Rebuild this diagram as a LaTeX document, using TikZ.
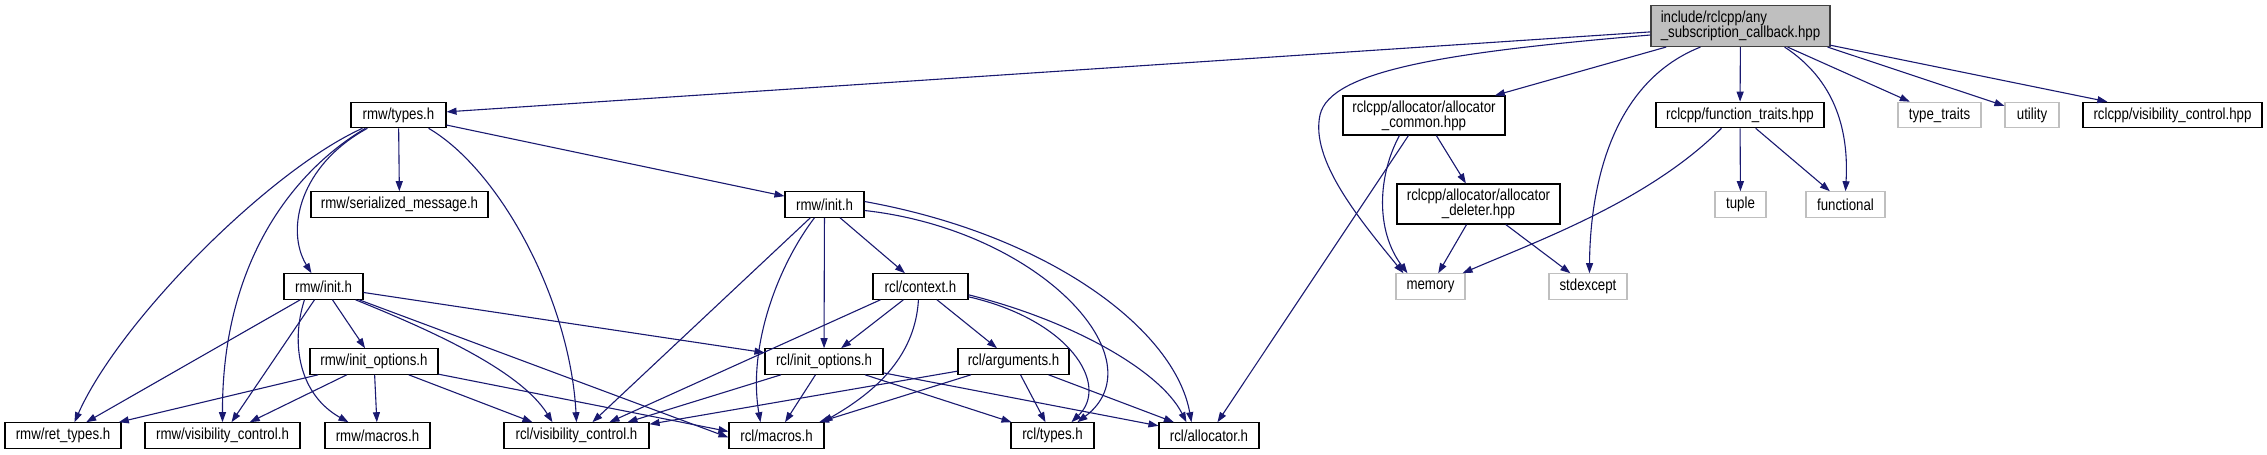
\documentclass[tikz,border=0pt]{standalone}
\usepackage{fontspec}
\setmainfont{Liberation Sans}[FakeStretch=0.83]
\usetikzlibrary{arrows.meta}
\definecolor{edgeblue}{HTML}{191970}
\definecolor{greyfill}{HTML}{BFBFBF}
\definecolor{greyline}{HTML}{BFBFBF}
\definecolor{mainline}{HTML}{404040}
\begin{document}
\begin{tikzpicture}[x=1pt,y=-1pt,
  filebox/.style={draw=black, line width=1.1pt, fill=white, inner sep=0pt, minimum height=25.5pt, font=\fontsize{16}{15}\selectfont, align=center},
  sysbox/.style={filebox, draw=greyline},
  mainbox/.style={filebox, fill=greyfill, draw=mainline, align=left},
  dep/.style={draw=edgeblue, line width=1.1pt, -{Triangle[length=10pt,width=7pt]}}
]
\useasboundingbox (0,0) rectangle (2267,455);

% nodes
\node[mainbox, minimum width=179pt, minimum height=41pt] (main) at (1740.5,26) {include/rclcpp/any\\\_subscription\_callback.hpp};
\node[filebox, minimum width=95pt] (types) at (398.5,115) {rmw/types.h};
\node[filebox, minimum width=177pt] (serial) at (399.5,204.5) {rmw/serialized\_message.h};
\node[filebox, minimum width=79pt] (initR) at (824.5,204.5) {rmw/init.h};
\node[filebox, minimum width=79pt] (initL) at (323.5,286.5) {rmw/init.h};
\node[filebox, minimum width=128pt] (rmwio) at (374,361.5) {rmw/init\_options.h};
\node[filebox, minimum width=116pt] (ret) at (63,435.5) {rmw/ret\_types.h};
\node[filebox, minimum width=155pt] (rmwvis) at (222.5,435.5) {rmw/visibility\_control.h};
\node[filebox, minimum width=105pt] (rmwmac) at (377.5,435.5) {rmw/macros.h};
\node[filebox, minimum width=145pt] (rclvis) at (576.5,435.5) {rcl/visibility\_control.h};
\node[filebox, minimum width=95pt] (rclmac) at (776.5,435.5) {rcl/macros.h};
\node[filebox, minimum width=83pt] (rcltypes) at (1052.5,435.5) {rcl/types.h};
\node[filebox, minimum width=100pt] (rclalloc) at (1209,435.5) {rcl/allocator.h};
\node[filebox, minimum width=95pt] (context) at (920.5,286.5) {rcl/context.h};
\node[filebox, minimum width=118pt] (rclio) at (824,361.5) {rcl/init\_options.h};
\node[filebox, minimum width=111pt] (args) at (1013.5,361.5) {rcl/arguments.h};
\node[filebox, minimum width=162pt, minimum height=39pt] (acommon) at (1424,115.5) {rclcpp/allocator/allocator\\\_common.hpp};
\node[filebox, minimum width=163pt, minimum height=40pt] (adeleter) at (1478.5,204) {rclcpp/allocator/allocator\\\_deleter.hpp};
\node[sysbox, minimum width=69pt] (memory) at (1430.5,286.5) {memory};
\node[sysbox, minimum width=78pt] (stdexcept) at (1588,286.5) {stdexcept};
\node[filebox, minimum width=168pt] (ftraits) at (1740,115) {rclcpp/function\_traits.hpp};
\node[sysbox, minimum width=83pt] (ttraits) at (1939.5,115) {type\_traits};
\node[sysbox, minimum width=54pt] (utility) at (2032,115) {utility};
\node[filebox, minimum width=179pt] (rcppvis) at (2172.5,115) {rclcpp/visibility\_control.hpp};
\node[sysbox, minimum width=51pt] (tuple) at (1740.5,204.5) {tuple};
\node[sysbox, minimum width=79pt] (functional) at (1845.5,204.5) {functional};

% main
\draw[dep] (main) -- (types);
\draw[dep] ([yshift=-9pt]main.west) .. controls (1450,52) and (1330,70) .. (1320,115) .. controls (1310,160) and (1360,220) .. ([xshift=8pt]memory.north west);
\draw[dep] (main) -- (acommon);
\draw[dep] ([xshift=50pt]main.south west) .. controls (1605,85) and (1590,200) .. ([xshift=41pt]stdexcept.north west);
\draw[dep] (main) -- (ftraits);
\draw[dep] ([xshift=-46pt]main.south east) .. controls (1835,80) and (1849,130) .. (functional.north);
\draw[dep] (main) -- (ttraits);
\draw[dep] ([xshift=-3pt]main.south east) -- (utility);
\draw[dep] ([xshift=-1pt,yshift=2pt]main.south east) -- (rcppvis);

% rmw/types.h
\draw[dep] (types) -- (serial);
\draw[dep] (types) -- (initR);
\draw[dep] ([xshift=12pt]types.south west) .. controls (270,170) and (120,320) .. ([xshift=70pt]ret.north west);
\draw[dep] ([xshift=15pt]types.south west) .. controls (295,170) and (222,260) .. (rmwvis.north);
\draw[dep] ([xshift=17pt]types.south west) .. controls (300,165) and (285,230) .. ([xshift=28pt]initL.north west);
\draw[dep] ([xshift=-18pt]types.south east) .. controls (500,170) and (570,300) .. (rclvis.north);

% rmw/init.h (left)
\draw[dep] (initL) -- (ret);
\draw[dep] (initL) -- (rmwvis);
\draw[dep] ([xshift=21pt]initL.south west) .. controls (290,345) and (300,395) .. ([xshift=24pt]rmwmac.north west);
\draw[dep] (initL) -- (rmwio);
\draw[dep] ([xshift=-8pt]initL.south east) .. controls (430,330) and (520,370) .. ([xshift=49pt]rclvis.north west);
\draw[dep] (initL) -- ([yshift=-2pt]rclmac.west);
\draw[dep] (initL) -- (rclio);

% rmw/init_options.h
\draw[dep] (rmwio) -- (ret);
\draw[dep] (rmwio) -- (rmwvis);
\draw[dep] (rmwio) -- (rmwmac);
\draw[dep] (rmwio) -- ([xshift=29pt]rclvis.north west);
\draw[dep] (rmwio) -- ([yshift=4pt]rclmac.west);

% rmw/init.h (right)
\draw[dep] (initR) -- ([xshift=89pt]rclvis.north west);
\draw[dep] ([xshift=30pt]initR.south west) .. controls (775,270) and (748,350) .. ([xshift=32pt]rclmac.north west);
\draw[dep] (initR) -- (rclio);
\draw[dep] (initR) -- (context);
\draw[dep] ([yshift=-6pt]initR.east) .. controls (1040,230) and (1160,360) .. ([xshift=67pt]rcltypes.north west);
\draw[dep] ([yshift=3pt]initR.east) .. controls (1050,235) and (1175,330) .. ([xshift=33pt]rclalloc.north west);

% rcl/context.h
\draw[dep] ([xshift=8pt]context.south west) -- ([xshift=106pt]rclvis.north west);
\draw[dep] (context) -- (rclio);
\draw[dep] ([xshift=46pt]context.south west) .. controls (915,360) and (870,395) .. ([xshift=-2pt]rclmac.north east);
\draw[dep] (context) -- (args);
\draw[dep] ([yshift=3pt]context.south east) .. controls (1070,320) and (1110,385) .. ([xshift=61pt]rcltypes.north west);
\draw[dep] ([yshift=5pt]context.south east) .. controls (1070,320) and (1160,370) .. ([xshift=28pt]rclalloc.north west);

% rcl/init_options.h
\draw[dep] (rclio) -- ([xshift=124pt]rclvis.north west);
\draw[dep] (rclio) -- (rclmac);
\draw[dep] (rclio) -- (rcltypes);
\draw[dep] (rclio) -- (rclalloc);

% rcl/arguments.h
\draw[dep] (args) -- ([yshift=-2pt]rclvis.north east);
\draw[dep] (args) -- (rclmac);
\draw[dep] (args) -- (rcltypes);
\draw[dep] (args) -- (rclalloc);

% allocator_common
\draw[dep] (acommon) -- (adeleter);
\draw[dep] ([xshift=57pt]acommon.south west) .. controls (1378,175) and (1375,230) .. ([xshift=12pt]memory.north west);
\draw[dep] ([xshift=66pt]acommon.south west) -- ([xshift=59pt]rclalloc.north west);

% allocator_deleter
\draw[dep] (adeleter) -- (memory);
\draw[dep] (adeleter) -- (stdexcept);

% function_traits
\draw[dep] ([xshift=66pt]ftraits.south west) .. controls (1650,200) and (1540,240) .. ([xshift=-3pt]memory.north east);
\draw[dep] (ftraits) -- (tuple);
\draw[dep] (ftraits) -- (functional);
\end{tikzpicture}
\end{document}
